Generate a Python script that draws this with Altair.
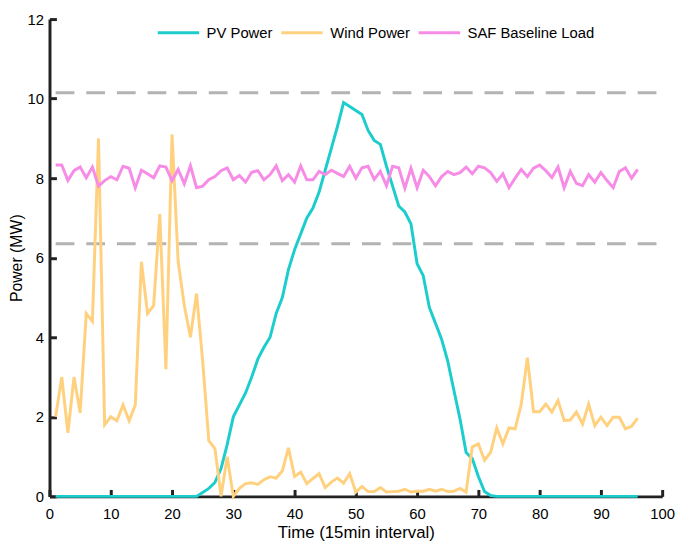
import altair as alt
import pandas as pd

# ---------------- data ----------------
time = list(range(1, 97))

pv = [0, 0, 0, 0, 0, 0, 0, 0, 0, 0, 0, 0, 0, 0, 0, 0, 0, 0, 0, 0, 0, 0, 0, 0,
      0.1, 0.2, 0.35, 0.7, 1.3, 2.0, 2.3, 2.6, 3.0, 3.45, 3.75, 4.0, 4.6, 5.0,
      5.7, 6.2, 6.6, 7.0, 7.25, 7.65, 8.2, 8.75, 9.3, 9.9, 9.8, 9.7, 9.6, 9.2,
      8.95, 8.85, 8.3, 7.8, 7.3, 7.15, 6.85, 5.85, 5.55, 4.75, 4.35, 3.95, 3.4,
      2.67, 1.95, 1.1, 0.95, 0.5, 0.12, 0.02,
      0, 0, 0, 0, 0, 0, 0, 0, 0, 0, 0, 0, 0, 0, 0, 0, 0, 0, 0, 0, 0, 0, 0, 0]

wind = [2.0, 3.0, 1.6, 3.0, 2.1, 4.6, 4.4, 9.0, 1.8, 2.0, 1.9, 2.3, 1.9, 2.3,
        5.9, 4.6, 4.8, 7.1, 3.2, 9.1, 5.9, 4.8, 4.0, 5.1, 3.4, 1.4, 1.2, 0.0,
        1.0, 0.0, 0.2, 0.32, 0.34, 0.3, 0.42, 0.49, 0.46, 0.64, 1.22, 0.5,
        0.61, 0.32, 0.45, 0.57, 0.22, 0.36, 0.46, 0.33, 0.57, 0.11, 0.25, 0.12,
        0.12, 0.22, 0.11, 0.12, 0.13, 0.18, 0.11, 0.13, 0.13, 0.18, 0.13, 0.18,
        0.12, 0.13, 0.2, 0.11, 1.24, 1.32, 0.91, 1.11, 1.72, 1.32, 1.72, 1.7,
        2.32, 3.49, 2.13, 2.13, 2.32, 2.12, 2.41, 1.91, 1.92, 2.12, 1.82, 2.32,
        1.78, 1.99, 1.78, 1.99, 1.99, 1.7, 1.76, 1.97]

saf = [8.33, 8.33, 7.94, 8.19, 8.28, 8.01, 8.28, 7.8, 7.94, 8.04, 7.96, 8.3,
       8.25, 7.76, 8.2, 8.11, 8.01, 8.31, 8.28, 7.94, 8.22, 7.86, 8.31, 7.76,
       7.8, 7.96, 8.04, 8.19, 8.26, 7.96, 8.07, 7.9, 8.15, 8.19, 7.96, 8.09,
       8.31, 7.94, 8.09, 7.9, 8.31, 7.96, 7.96, 8.17, 8.09, 8.2, 8.12, 8.04,
       8.3, 8.0, 8.26, 8.3, 7.97, 8.17, 7.81, 8.3, 8.26, 7.75, 8.25, 7.76,
       8.2, 8.04, 7.81, 8.04, 8.17, 8.09, 8.14, 8.28, 8.11, 8.3, 8.26, 8.14,
       7.92, 8.11, 7.76, 8.0, 8.22, 8.04, 8.25, 8.33, 8.19, 8.02, 8.28, 7.76,
       8.17, 7.87, 7.81, 8.09, 7.9, 8.14, 7.94, 7.76, 8.17, 8.26, 8.0, 8.22]

series_names = ["PV Power", "Wind Power", "SAF Baseline Load"]
series_colors = ["#1DCDCD", "#FFD17F", "#F78CE7"]

limit_levels = [10.15, 6.35]
limit_start = [1, 1]
limit_end = [100, 100]

x_ticks = list(range(0, 101, 10))
y_ticks = list(range(0, 13, 2))

# ---------------- layout ----------------
W, H = 620, 483
FONT = "Liberation Sans"
AXIS_COLOR = "#222222"

rows = []
for name, vals in zip(series_names, [pv, wind, saf]):
    for t, v in zip(time, vals):
        rows.append({"t": t, "value": v, "series": name})
df = pd.DataFrame(rows)

df_limits = pd.DataFrame({"level": limit_levels, "x0": limit_start, "x1": limit_end})

xscale = alt.Scale(domain=[0, 100], nice=False, zero=False)
yscale = alt.Scale(domain=[0, 12], nice=False, zero=True)
cscale = alt.Scale(domain=series_names, range=series_colors)

legend = alt.Legend(
    title=None, orient="none", legendX=108, legendY=-9, direction="horizontal",
    symbolType="stroke", symbolSize=1764, symbolStrokeWidth=3,
    labelFont=FONT, labelFontSize=15, labelColor="#000000", labelOffset=6,
    columnPadding=2, padding=0,
)

x_label_axis = alt.Axis(
    orient="bottom", values=x_ticks, domain=True, domainColor=AXIS_COLOR,
    domainWidth=3, ticks=False, grid=False, labelFont=FONT, labelFontSize=15,
    labelColor="#000000", labelPadding=10, labelFlush=False, labelOverlap=False,
    title="Time (15min interval)",
    titleFont=FONT, titleFontSize=17, titleFontWeight="normal",
    titleColor="#000000", titlePadding=4,
)
y_label_axis = alt.Axis(
    orient="left", values=y_ticks, domain=True, domainColor=AXIS_COLOR,
    domainWidth=3, ticks=False, grid=False, labelFont=FONT, labelFontSize=15,
    labelColor="#000000", labelPadding=6, labelFlush=False, labelOverlap=False,
    title="Power (MW)",
    titleFont=FONT, titleFontSize=16, titleFontWeight="normal",
    titleColor="#000000", titlePadding=3,
)
x_tick_axis = alt.Axis(
    orient="top", offset=-H, values=x_ticks, domain=False, labels=False,
    ticks=True, tickSize=7, tickWidth=3, tickColor=AXIS_COLOR, grid=False,
    title=None,
)
y_tick_axis = alt.Axis(
    orient="right", offset=-W, values=y_ticks, domain=False, labels=False,
    ticks=True, tickSize=7, tickWidth=3, tickColor=AXIS_COLOR, grid=False,
    title=None,
)

limits = alt.Chart(df_limits).mark_rule(
    color="#B3B3B3", strokeWidth=3, strokeDash=[19, 12]
).encode(
    x=alt.X("x0:Q", scale=xscale, axis=x_tick_axis),
    x2="x1:Q",
    y=alt.Y("level:Q", scale=yscale, axis=y_tick_axis),
)


def series_layer(name, first=False):
    return alt.Chart(df).transform_filter(
        alt.datum.series == name
    ).mark_line(strokeWidth=3).encode(
        x=alt.X("t:Q", scale=xscale, axis=x_label_axis if first else None),
        y=alt.Y("value:Q", scale=yscale, axis=y_label_axis if first else None),
        color=alt.Color("series:N", scale=cscale, legend=legend),
    )


chart = alt.layer(
    limits,
    series_layer("PV Power", first=True),
    series_layer("Wind Power"),
    series_layer("SAF Baseline Load"),
).resolve_axis(
    x="independent", y="independent"
).properties(
    width=W, height=H,
    autosize=alt.AutoSizeParams(type="none"),
    padding={"left": 42, "top": 8, "right": 15, "bottom": 48},
    background="#ffffff",
).configure_view(strokeWidth=0)

chart.save("out.html", embed_options={"renderer": "svg", "actions": False})
